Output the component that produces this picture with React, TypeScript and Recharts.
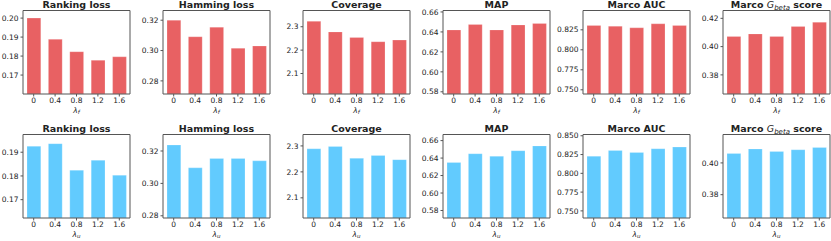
import React from 'react';
import { BarChart, Bar, XAxis, YAxis } from 'recharts';

// categories (lambda values)
const lambdas = ['0', '0.4', '0.8', '1.2', '1.6'];

// row 1: varying lambda_f
const rankingF = [0.2, 0.1888, 0.1823, 0.1778, 0.1796];
const hammingF = [0.32, 0.3091, 0.3154, 0.3015, 0.303];
const coverageF = [2.323, 2.278, 2.254, 2.236, 2.243];
const mapF = [0.642, 0.6475, 0.642, 0.647, 0.6485];
const aucF = [0.8305, 0.8295, 0.8275, 0.8325, 0.8305];
const gbetaF = [0.4072, 0.409, 0.4072, 0.4143, 0.4172];

// row 2: varying lambda_u
const rankingU = [0.1925, 0.1936, 0.1824, 0.1866, 0.1803];
const hammingU = [0.3237, 0.3096, 0.3154, 0.3154, 0.3139];
const coverageU = [2.289, 2.298, 2.252, 2.263, 2.247];
const mapU = [0.6349, 0.645, 0.642, 0.6484, 0.6539];
const aucU = [0.8228, 0.8305, 0.8278, 0.8327, 0.835];
const gbetaU = [0.4059, 0.4088, 0.4072, 0.4083, 0.4097];

// candidate tick labels per metric
const rankingTicks = [0.16, 0.17, 0.18, 0.19, 0.2];
const hammingTicks = [0.28, 0.3, 0.32];
const coverageTicks = [2.1, 2.2, 2.3];
const mapTicks = [0.58, 0.6, 0.62, 0.64, 0.66];
const aucTicks = [0.75, 0.775, 0.8, 0.825, 0.85];
const gbetaTicks = [0.38, 0.4, 0.42];

const titles = ['Ranking loss', 'Hamming loss', 'Coverage', 'MAP', 'Marco AUC', 'Marco G_beta score'];
const decimals = [2, 2, 1, 2, 3, 2];

const RED = '#E86163';
const BLUE = '#62CBFE';
const SPINE = '#555555';
const TEXT = '#222222';
const FONT = '"DejaVu Sans", sans-serif';

const TitleLabel = ({ viewBox, title }: any) => {
  const { x, y, width } = viewBox;
  const cx = x + width / 2;
  if (title === 'Marco G_beta score') {
    return (
      <text x={cx} y={y - 1.8} textAnchor="middle" fontFamily={FONT} fontSize={9.5} fill={TEXT} fontWeight="bold">
        <tspan>Marco </tspan>
        <tspan fontStyle="italic" fontWeight="normal">G</tspan>
        <tspan fontStyle="italic" fontWeight="normal" fontSize={7} dy={2}>beta</tspan>
        <tspan dy={-2}> score</tspan>
      </text>
    );
  }
  return (
    <text x={cx} y={y - 1.8} textAnchor="middle" fontFamily={FONT} fontSize={9.5} fill={TEXT} fontWeight="bold">
      {title}
    </text>
  );
};

const LambdaLabel = ({ viewBox, sub }: any) => {
  const { x, y, width } = viewBox;
  return (
    <text x={x + width / 2} y={y + 18.5} textAnchor="middle" fontFamily={FONT} fontSize={7.5} fill={TEXT}>
      <tspan fontStyle="italic">λ</tspan>
      <tspan fontStyle="italic" fontSize={5.5} dy={1.8}>{sub}</tspan>
    </text>
  );
};

interface PanelProps {
  values: number[];
  ticks: number[];
  title: string;
  dec: number;
  color: string;
  sub: string;
  left: number;
  top: number;
}

const Panel = ({ values, ticks, title, dec, color, sub, left, top }: PanelProps) => {
  const data = lambdas.map((name, i) => ({ name, value: values[i] }));
  const lo = Math.min(...values) * 0.9;
  const hi = Math.max(...values) * 1.02;
  const shownTicks = ticks.filter(t => t >= lo - 1e-9 && t <= hi + 1e-9);
  return (
    <div style={{ position: 'absolute', left: left - 12, top }}>
      <BarChart width={152} height={120} data={data} margin={{ top: 9.5, right: 9, left: 0, bottom: 0 }}>
        <XAxis
          dataKey="name"
          height={26}
          tick={{ fontSize: 7.5, fill: TEXT, fontFamily: FONT }}
          tickSize={2.5}
          tickMargin={1.5}
          axisLine={{ stroke: SPINE }}
          tickLine={{ stroke: SPINE }}
          interval={0}
          label={<LambdaLabel sub={sub} />}
        />
        <XAxis
          xAxisId="top"
          dataKey="name"
          orientation="top"
          height={1}
          tick={false}
          tickLine={false}
          axisLine={{ stroke: SPINE }}
          label={<TitleLabel title={title} />}
        />
        <YAxis
          width={35}
          domain={[lo, hi]}
          allowDataOverflow
          ticks={shownTicks}
          tickFormatter={(v: number) => v.toFixed(dec)}
          tick={{ fontSize: 7.5, fill: TEXT, fontFamily: FONT }}
          tickSize={2.5}
          tickMargin={2}
          axisLine={{ stroke: SPINE }}
          tickLine={{ stroke: SPINE }}
        />
        <YAxis
          yAxisId="right"
          orientation="right"
          width={1}
          domain={[0, 1]}
          tick={false}
          tickLine={false}
          axisLine={{ stroke: SPINE }}
        />
        <Bar dataKey="value" fill={color} barSize={13.8} stroke="#ffffff" strokeOpacity={0.35} strokeWidth={0.6} isAnimationActive={false} />
      </BarChart>
    </div>
  );
};

export default function App() {
  const rowF = [rankingF, hammingF, coverageF, mapF, aucF, gbetaF];
  const rowU = [rankingU, hammingU, coverageU, mapU, aucU, gbetaU];
  const tickSets = [rankingTicks, hammingTicks, coverageTicks, mapTicks, aucTicks, gbetaTicks];
  return (
    <div style={{ position: 'absolute', left: 0, top: 0, width: 831, height: 241, overflow: 'hidden', background: '#fff' }}>
      {rowF.map((vals, i) => (
        <Panel key={`f-${i}`} values={vals} ticks={tickSets[i]} title={titles[i]} dec={decimals[i]}
          color={RED} sub="f" left={140 * i} top={0} />
      ))}
      {rowU.map((vals, i) => (
        <Panel key={`u-${i}`} values={vals} ticks={tickSets[i]} title={titles[i]} dec={decimals[i]}
          color={BLUE} sub="u" left={140 * i} top={123.5} />
      ))}
    </div>
  );
}
